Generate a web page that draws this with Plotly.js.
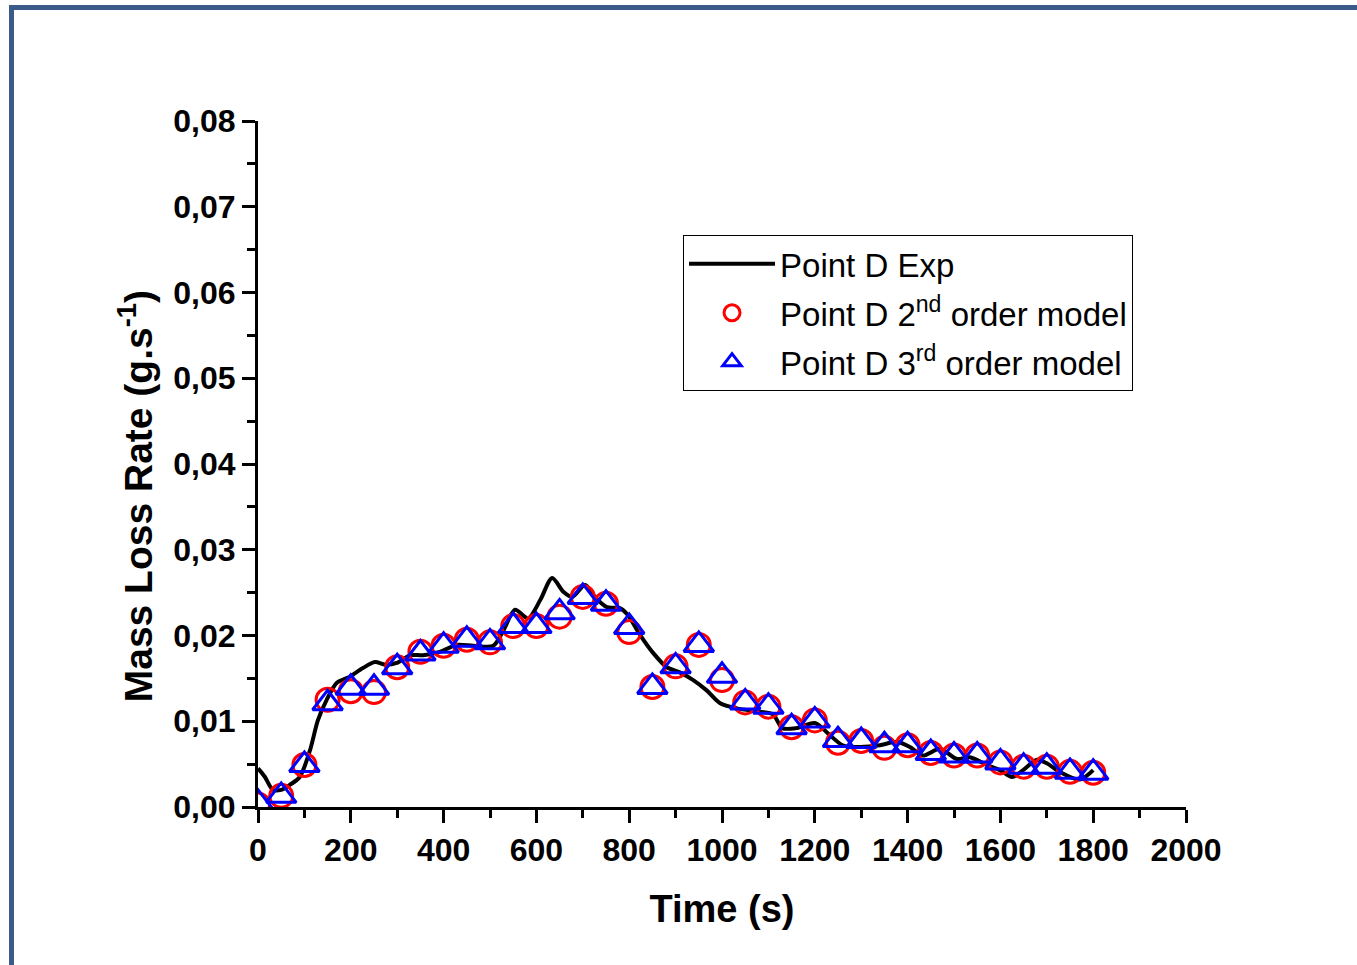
<!DOCTYPE html>
<html>
<head>
<meta charset="utf-8">
<script src="https://cdn.plot.ly/plotly-3.0.1.min.js"></script>
<style>
html,body{margin:0;padding:0;background:#fff;}
#chart{width:1357px;height:965px;}
#frame{position:absolute;left:9px;top:5px;width:1348px;height:960px;border-top:5px solid #3B5B8A;border-left:5px solid #3B5B8A;pointer-events:none;box-sizing:border-box;}
</style>
</head>
<body>
<div id="chart"></div>
<div id="frame"></div>
<script>
// Experimental curve (Point D Exp)
const expTime = [0,15,32,50,69,90,112,129,148,170,198,226,252,274,299,328,356,392,428,464,507,529,554,582,608,634,658,677,705,726,752,780,797,823,851,881,909,938,967,996,1032,1082,1110,1130,1160,1200,1230,1260,1297,1340,1377,1405,1433,1470,1506,1534,1571,1599,1625,1649,1679,1700,1728,1771,1800];
const expRate = [0.0045,0.0035,0.0020,0.0020,0.0026,0.0035,0.0066,0.0101,0.0125,0.0145,0.0152,0.0162,0.0169,0.0166,0.0168,0.0177,0.0177,0.0181,0.0189,0.0188,0.0188,0.0206,0.0230,0.0220,0.0241,0.0267,0.0251,0.0245,0.0259,0.0245,0.0233,0.0232,0.0224,0.0201,0.0180,0.0163,0.0157,0.0148,0.0136,0.0121,0.0115,0.0111,0.0108,0.0092,0.0092,0.0098,0.0085,0.0072,0.0070,0.0072,0.0076,0.0070,0.0060,0.0068,0.0056,0.0058,0.0049,0.0043,0.0035,0.0043,0.0055,0.0051,0.0041,0.0032,0.0043];

// Model points
const modelTime = [0,50,100,150,200,250,300,350,400,450,500,550,600,650,700,750,800,850,900,950,1000,1050,1100,1150,1200,1250,1300,1350,1400,1450,1500,1550,1600,1650,1700,1750,1800];
const model2nd = [0.0003,0.0013,0.0049,0.0125,0.0135,0.0134,0.0163,0.0181,0.0188,0.0195,0.0192,0.0211,0.0211,0.0222,0.0245,0.0237,0.0204,0.0140,0.0164,0.0189,0.0148,0.0122,0.0117,0.0093,0.0101,0.0075,0.0077,0.0069,0.0072,0.0063,0.0060,0.0060,0.0052,0.0047,0.0047,0.0041,0.0040];
const model3rd = [0.0005,0.0013,0.0049,0.0121,0.0139,0.0139,0.0163,0.0179,0.0188,0.0195,0.0192,0.0211,0.0211,0.0227,0.0245,0.0237,0.0210,0.0140,0.0164,0.0189,0.0153,0.0122,0.0117,0.0093,0.0101,0.0078,0.0077,0.0072,0.0072,0.0063,0.0060,0.0060,0.0052,0.0047,0.0047,0.0041,0.0040];

const xTicks = [0,200,400,600,800,1000,1200,1400,1600,1800,2000];
const yTicks = [0,0.01,0.02,0.03,0.04,0.05,0.06,0.07,0.08];

const font = "Liberation Sans, Arial, sans-serif";

const traces = [
  {x: expTime, y: expRate, type: 'scatter', mode: 'lines', name: 'Point D Exp',
   line: {color: '#000', width: 4, shape: 'spline', smoothing: 0.8}, legendgroup: 'a'},
  {x: modelTime, y: model2nd, type: 'scatter', mode: 'markers', name: 'Point D 2<sup>nd</sup> order model',
   marker: {symbol: 'circle-open', size: 23, color: '#FF0000', line: {width: 3, color: '#FF0000'}}, legendgroup: 'b'},
  {x: modelTime, y: model3rd, type: 'scatter', mode: 'markers', name: 'Point D 3<sup>rd</sup> order model',
   marker: {symbol: 'triangle-up-open', size: 26, color: '#0000FF', line: {width: 3, color: '#0000FF'}}, legendgroup: 'c'}
];

const layout = {
  width: 1357, height: 965,
  margin: {l: 258, r: 171, t: 121, b: 158, pad: 0},
  paper_bgcolor: '#fff', plot_bgcolor: '#fff',
  separators: ',.',
  showlegend: true,
  font: {family: font, color: '#000'},
  xaxis: {
    range: [0, 2000], tickvals: xTicks, ticktext: xTicks.map(String),
    showgrid: false, zeroline: false, showline: true, linecolor: '#000', linewidth: 3,
    ticks: 'outside', ticklen: 13, tickwidth: 3, tickcolor: '#000',
    minor: {ticks: 'outside', dtick: 100, ticklen: 8, tickwidth: 3, tickcolor: '#000', showgrid: false},
    tickfont: {family: font, size: 32, color: '#000', weight: 'bold'},
    title: {text: '<b>Time (s)</b>', font: {family: font, size: 38, color: '#000'}, standoff: 28}
  },
  yaxis: {
    range: [0, 0.08], tickvals: yTicks, tickformat: '.2f',
    showgrid: false, zeroline: false, showline: true, linecolor: '#000', linewidth: 3,
    ticks: 'outside', ticklen: 13, tickwidth: 3, tickcolor: '#000',
    minor: {ticks: 'outside', dtick: 0.005, ticklen: 8, tickwidth: 3, tickcolor: '#000', showgrid: false},
    tickfont: {family: font, size: 32, color: '#000', weight: 'bold'},
    title: {text: ''}
  },
  annotations: [{
    xref: 'paper', yref: 'paper', x: -0.1325, y: 0.453, xanchor: 'center', yanchor: 'middle',
    textangle: -90, showarrow: false,
    text: '<b>Mass Loss Rate (g.s<sup>-1</sup>)</b>',
    font: {family: font, size: 39, color: '#000'}
  }],
  legend: {
    x: 0.458, y: 0.834, xanchor: 'left', yanchor: 'top',
    bordercolor: '#000', borderwidth: 1, bgcolor: '#fff',
    font: {family: font, size: 33, color: '#000'},
    itemwidth: 86, traceorder: 'grouped', tracegroupgap: 3
  }
};

Plotly.newPlot('chart', traces, layout, {displayModeBar: false, staticPlot: true});
</script>
</body>
</html>
